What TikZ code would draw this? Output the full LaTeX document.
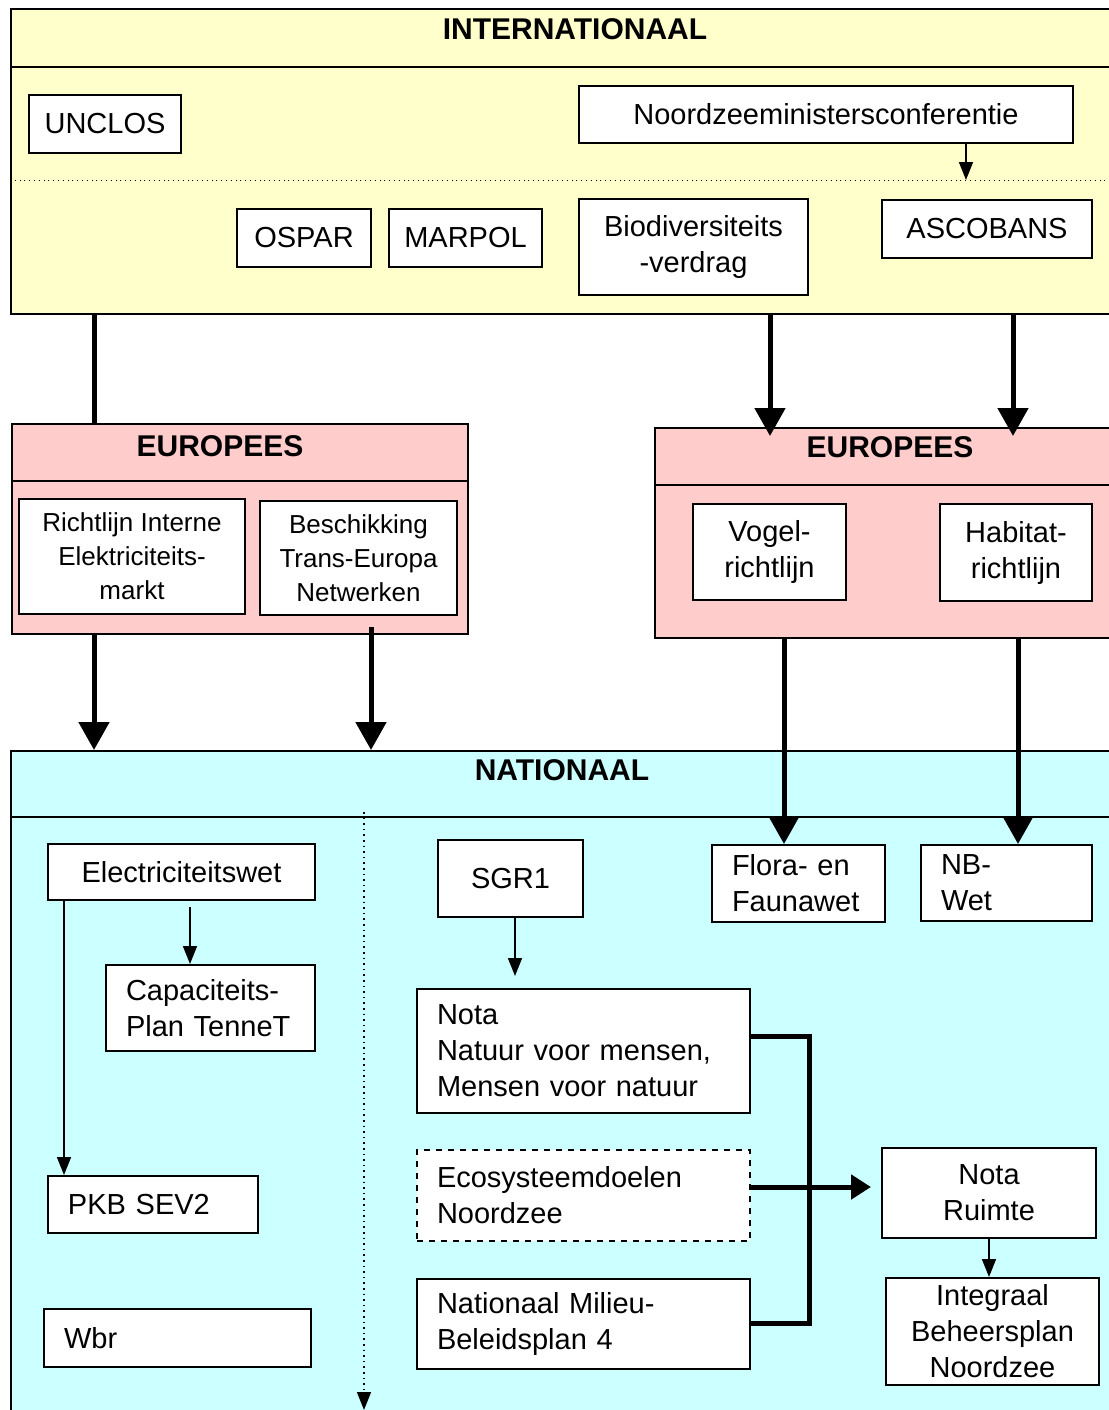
\documentclass[tikz,border=0pt]{standalone}
\usepackage{fontspec}
\setmainfont{Liberation Sans}
\usetikzlibrary{arrows.meta}
\definecolor{interfill}{HTML}{FFFFCC}
\definecolor{eurofill}{HTML}{FFCCCC}
\definecolor{natfill}{HTML}{CCFFFF}
\begin{document}
\begin{tikzpicture}[x=0.5pt,y=-0.5pt,
	layer/.style={draw,line width=1.2pt,inner sep=0pt,anchor=north west},
	title/.style={font=\bfseries\fontsize{15}{18}\selectfont},
	box/.style={draw,fill=white,line width=1pt,inner sep=0pt,align=center,anchor=north west,font=\fontsize{14.5}{18}\selectfont},
	lbox/.style={box,align=left,inner xsep=10pt},
	bigarrow/.style={line width=2.5pt,-{Triangle[length=14pt,width=15pt]}},
	smallarrow/.style={line width=0.8pt,-{Triangle[length=9pt,width=7pt]}}]
	\useasboundingbox (0,0) rectangle (1109,1410);
	\node[layer,fill=interfill,minimum width=560pt,minimum height=152.5pt] (inter) at (10,8) {};
	\node[layer,fill=eurofill,minimum width=228pt,minimum height=105pt] (euleft) at (11,423) {};
	\node[layer,fill=eurofill,minimum width=238pt,minimum height=105pt] (euright) at (654,427) {};
	\node[layer,fill=natfill,minimum width=560pt,minimum height=340pt] (nat) at (10,750) {};
	\draw[line width=1.2pt] (10,67) -- (1130,67);
	\draw[dotted] (10,180) -- (1130,180);
	\draw[line width=1.2pt] (11,481) -- (467,481);
	\draw[line width=1.2pt] (654,485) -- (1130,485);
	\draw[line width=1.2pt] (10,817) -- (1130,817);
	\node[title] (intertitle) at (575,29) {INTERNATIONAAL};
	\node[title] (eulefttitle) at (220,446) {EUROPEES};
	\node[title] (eurighttitle) at (890,447) {EUROPEES};
	\node[title] (nattitle) at (562,770) {NATIONAAL};

	\node[box,minimum width=76pt,minimum height=29pt] (unclos) at (28,94) {UNCLOS};
	\node[box,minimum width=247pt,minimum height=28.5pt] (noordzee) at (578,85) {Noordzeeministersconferentie};
	\node[box,minimum width=67pt,minimum height=29pt] (ospar) at (236,208) {OSPAR};
	\node[box,minimum width=76.5pt,minimum height=29pt] (marpol) at (388,208) {MARPOL};
	\node[box,minimum width=114.5pt,minimum height=48pt] (biodiv) at (578,198) {Biodiversiteits\\-verdrag};
	\node[box,minimum width=105pt,minimum height=29pt] (ascobans) at (881,199) {ASCOBANS};

	\node[box,minimum width=113pt,minimum height=57.5pt,font=\fontsize{13}{17}\selectfont] (richtlijn) at (18,498) {Richtlijn Interne\\Elektriciteits-\\markt};
	\node[box,minimum width=98.5pt,minimum height=57pt,font=\fontsize{13}{17}\selectfont] (beschikking) at (259,500) {Beschikking\\Trans-Europa\\Netwerken};
	\node[box,minimum width=76.5pt,minimum height=48pt] (vogel) at (692,503) {Vogel-\\richtlijn};
	\node[box,minimum width=76pt,minimum height=48.5pt] (habitat) at (939,503) {Habitat-\\richtlijn};

	\node[box,minimum width=133.5pt,minimum height=28pt] (elecwet) at (47,843) {Electriciteitswet};
	\node[lbox,text width=84.5pt,minimum height=43pt] (capaciteit) at (105,964) {Capaciteits-\\Plan TenneT};
	\node[lbox,text width=85pt,minimum height=28.5pt] (pkb) at (47,1175) {PKB SEV2};
	\node[lbox,text width=113.5pt,minimum height=29pt] (wbr) at (43,1308) {Wbr};
	\node[box,minimum width=72.5pt,minimum height=38.5pt] (sgr) at (437,839) {SGR1};
	\node[lbox,text width=146.5pt,minimum height=62pt] (nota) at (416,988) {Nota\\Natuur voor mensen,\\Mensen voor natuur};
	\node[lbox,text width=146.5pt,minimum height=45.5pt,dashed] (eco) at (416,1149) {Ecosysteemdoelen\\Noordzee};
	\node[lbox,text width=146.5pt,minimum height=45pt] (nmp) at (416,1278) {Nationaal Milieu-\\Beleidsplan 4};
	\node[lbox,text width=66.5pt,minimum height=38.5pt] (flora) at (711,844) {Flora- en\\Faunawet};
	\node[lbox,text width=65.5pt,minimum height=38pt] (nbwet) at (920,844) {NB-\\Wet};
	\node[box,minimum width=107pt,minimum height=45pt] (notaruimte) at (881,1147) {Nota\\Ruimte};
	\node[box,minimum width=106.5pt,minimum height=53.5pt] (ibn) at (885,1277) {Integraal\\Beheersplan\\Noordzee};

	\coordinate (nzend) at (966,180);
	\coordinate (leftdrop) at (94,0);
	\coordinate (natdrop) at (371,627);
	\coordinate (vogeldrop) at (770,436);
	\coordinate (habitatdrop) at (1013,436);
	\coordinate (florax) at (784,0);
	\coordinate (nbx) at (1018,0);
	\coordinate (capstart) at (190,907);
	\coordinate (pkbx) at (64,0);
	\coordinate (sgrend) at (515,976);
	\coordinate (bracket) at (809,0);
	\coordinate (ruimtein) at (871,1187);
	\coordinate (divtop) at (364,812);
	\coordinate (divend) at (364,1410);

	\draw[smallarrow] (noordzee.south -| nzend) -- (nzend);
	\draw[line width=2.5pt] (inter.south -| leftdrop) -- (euleft.north -| leftdrop);
	\draw[bigarrow] (inter.south -| vogeldrop) -- (vogeldrop);
	\draw[bigarrow] (inter.south -| habitatdrop) -- (habitatdrop);
	\draw[bigarrow] (euleft.south -| leftdrop) -- (nat.north -| leftdrop);
	\draw[bigarrow] (natdrop) -- (nat.north -| natdrop);
	\draw[bigarrow] (euright.south -| florax) -- (flora.north -| florax);
	\draw[bigarrow] (euright.south -| nbx) -- (nbwet.north -| nbx);
	\draw[smallarrow] (capstart) -- (capaciteit.north -| capstart);
	\draw[smallarrow] (elecwet.south -| pkbx) -- (pkb.north -| pkbx);
	\draw[smallarrow] (sgr.south -| sgrend) -- (sgrend);
	\draw[line width=2.5pt] (nota.east |- 0,1036) -- (bracket |- 0,1036) -- (bracket |- 0,1323) -- (nmp.east |- 0,1323);
	\draw[bigarrow,-{Triangle[length=10pt,width=12pt]}] (eco.east |- ruimtein) -- (ruimtein);
	\draw[smallarrow] (notaruimte.south) -- (ibn.north -| notaruimte.south);
	\draw[dotted,smallarrow] (divtop) -- (divend);
\end{tikzpicture}
\end{document}
